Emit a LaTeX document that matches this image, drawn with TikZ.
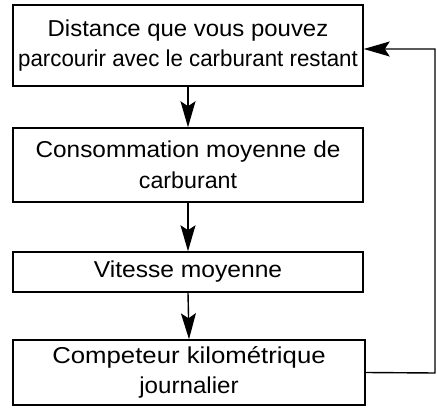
\documentclass[tikz,border=0pt]{standalone}
\usepackage{graphicx}
\usepackage{fontspec}
\setmainfont{Liberation Sans}
\usetikzlibrary{arrows.meta}
\newcommand{\hsc}[2]{\scalebox{#1}[1]{#2}}
\begin{document}
\begin{tikzpicture}[x=1pt,y=-1pt,
  box/.style={draw=black, line width=1.5pt, minimum width=350pt, align=center, inner sep=0pt,
    font=\fontsize{23}{30.5}\selectfont},
  flow/.style={line width=1.4pt, -{Stealth[length=26pt,width=15pt,inset=5pt]}}]
\useasboundingbox (0,0) rectangle (437,409);
\node[box, minimum height=81pt] (b1) at (188,45.5) {\hsc{1.04}{Distance que vous pouvez}\\\hsc{0.97}{parcourir avec le carburant restant}};
\node[box, minimum height=74pt] (b2) at (188,165) {\hsc{1.06}{Consommation moyenne de}\\\hsc{1.01}{carburant}};
\node[box, minimum height=40pt] (b3) at (188,272) {\hsc{1.07}{Vitesse moyenne}};
\node[box, minimum height=65pt, minimum width=352pt] (b4) at (189,372.5) {\hsc{1.12}{Competeur kilométrique}\\\hsc{1.05}{journalier}};
\coordinate (fb) at (435,373);
\draw[flow] (b1.south) -- (b2.north);
\draw[flow] (b2.south) -- (b3.north);
\draw[flow] (b3.south) -- (b4.north);
\draw[flow] (b4.east) -- (fb) |- ([yshift=-3.5pt]b1.east);
\end{tikzpicture}
\end{document}
